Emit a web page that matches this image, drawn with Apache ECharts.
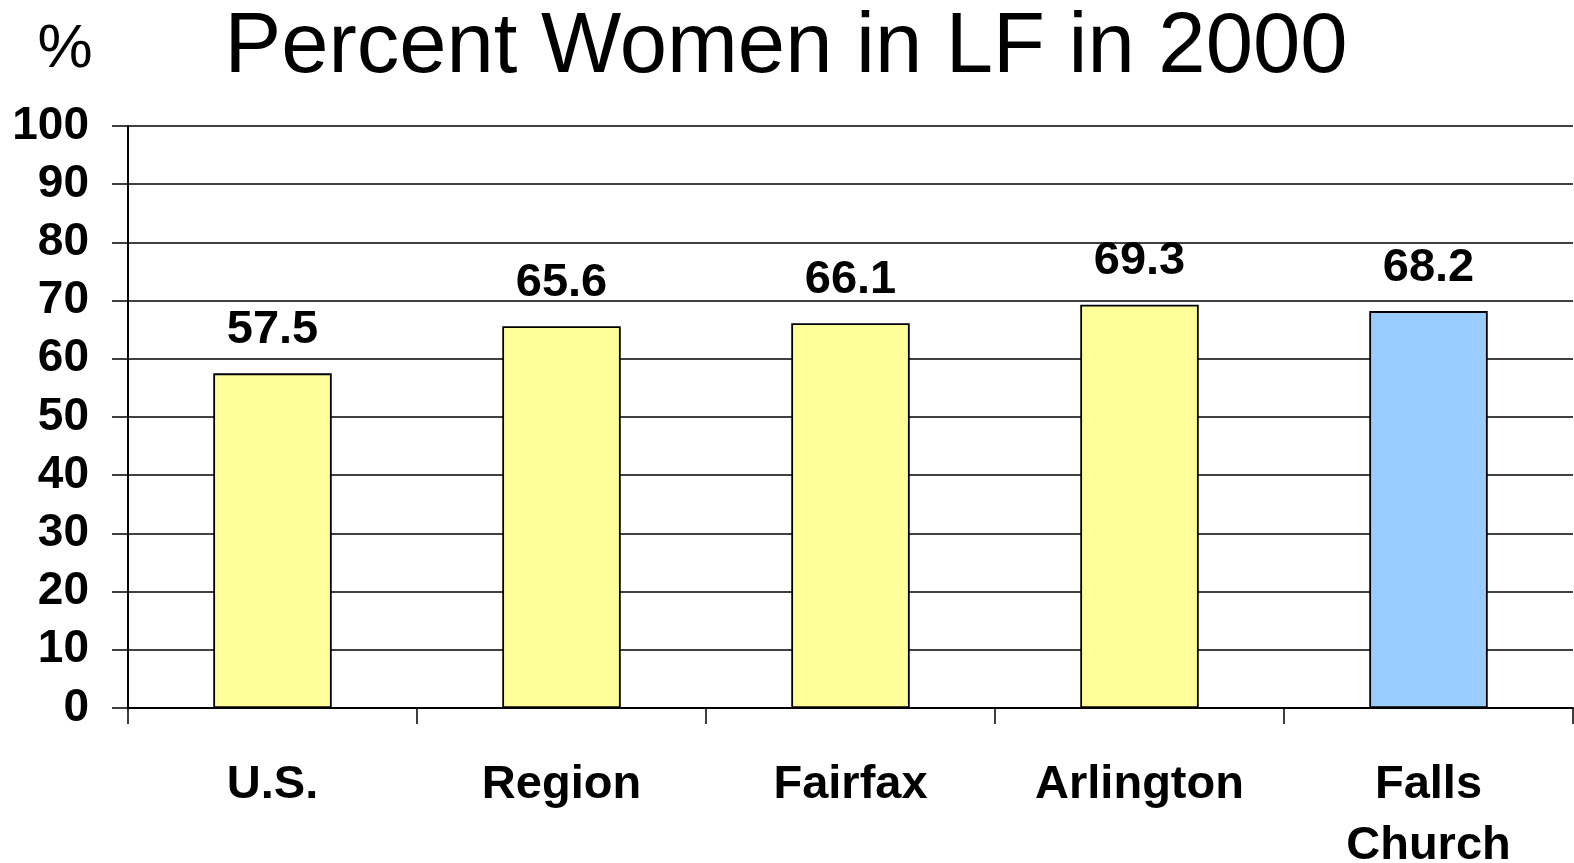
<!DOCTYPE html>
<html>
<head>
<meta charset="utf-8">
<script src="https://cdn.jsdelivr.net/npm/echarts@6/dist/echarts.min.js"></script>
<style>
html,body{margin:0;padding:0;background:#fff;}
#chart{width:1574px;height:863px;}
</style>
</head>
<body>
<div id="chart"></div>
<script>
var categories = ['U.S.', 'Region', 'Fairfax', 'Arlington', 'Falls\nChurch'];
var values = [57.5, 65.6, 66.1, 69.3, 68.2];
var barColors = ['#FFFF99', '#FFFF99', '#FFFF99', '#FFFF99', '#99CCFF'];
var titleText = 'Percent Women in LF in 2000';
var unitText = '%';

var FONT = '"Liberation Sans", Arial, sans-serif';
var chart = echarts.init(document.getElementById('chart'));
chart.setOption({
  animation: false,
  backgroundColor: '#ffffff',
  graphic: [
    {type: 'text', x: 786, y: 49, style: {text: titleText, fontSize: 85, fontFamily: FONT, fill: '#000', align: 'center', verticalAlign: 'middle'}},
    {type: 'text', x: 65, y: 50, style: {text: unitText, fontSize: 62, fontFamily: FONT, fill: '#000', align: 'center', verticalAlign: 'middle'}}
  ],
  grid: {left: 128, right: 1, top: 126, bottom: 155, containLabel: false, outerBoundsMode: 'none'},
  xAxis: {
    type: 'category',
    data: categories,
    boundaryGap: true,
    axisLine: {show: true, lineStyle: {color: '#000', width: 2}},
    axisTick: {show: true, length: 16, alignWithLabel: false, lineStyle: {color: '#000', width: 1.5}},
    axisLabel: {fontSize: 47, fontWeight: 'bold', fontFamily: FONT, color: '#000', margin: 47, lineHeight: 61, interval: 0}
  },
  yAxis: {
    type: 'value',
    min: 0, max: 100, interval: 10,
    axisLine: {show: true, lineStyle: {color: '#000', width: 2}},
    axisTick: {show: true, length: 16, lineStyle: {color: '#000', width: 1.5}},
    splitLine: {show: true, lineStyle: {color: '#000', width: 1.5}},
    axisLabel: {fontSize: 46, fontWeight: 'bold', fontFamily: FONT, color: '#000', margin: 39}
  },
  series: [{
    type: 'bar',
    data: values.map(function (v, i) { return {value: v, itemStyle: {color: barColors[i]}}; }),
    barWidth: '41%',
    itemStyle: {borderColor: '#000', borderWidth: 1.8},
    label: {show: true, position: 'top', distance: 20, fontSize: 47, fontWeight: 'bold', fontFamily: FONT, color: '#000'}
  }]
});
</script>
</body>
</html>
